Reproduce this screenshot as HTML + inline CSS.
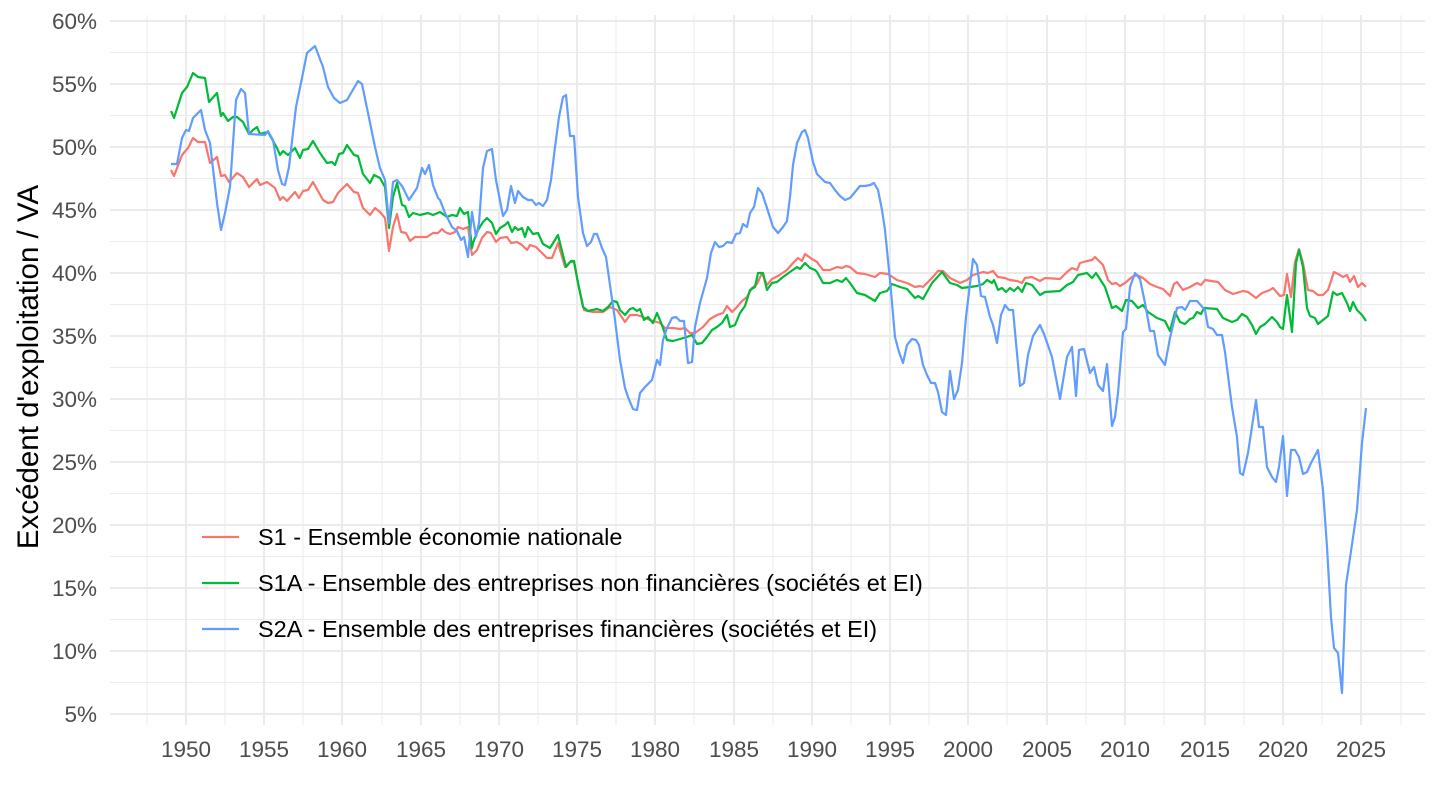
<!DOCTYPE html>
<html><head><meta charset="utf-8"><style>
html,body{margin:0;padding:0;background:#fff}
svg{display:block;font-family:"Liberation Sans",Arial,sans-serif}
</style></head><body>
<svg width="1440" height="810" viewBox="0 0 1440 810" xmlns="http://www.w3.org/2000/svg">
<rect width="1440" height="810" fill="#fff"/>
<g stroke="#ebebeb" stroke-width="1">
<line x1="110" x2="1425" y1="52.5" y2="52.5"/><line x1="110" x2="1425" y1="115.5" y2="115.5"/><line x1="110" x2="1425" y1="178.5" y2="178.5"/><line x1="110" x2="1425" y1="241.5" y2="241.5"/><line x1="110" x2="1425" y1="304.5" y2="304.5"/><line x1="110" x2="1425" y1="367.5" y2="367.5"/><line x1="110" x2="1425" y1="430.5" y2="430.5"/><line x1="110" x2="1425" y1="493.5" y2="493.5"/><line x1="110" x2="1425" y1="556.5" y2="556.5"/><line x1="110" x2="1425" y1="619.5" y2="619.5"/><line x1="110" x2="1425" y1="682.5" y2="682.5"/>
<line y1="15" y2="725" x1="147" x2="147"/><line y1="15" y2="725" x1="225" x2="225"/><line y1="15" y2="725" x1="303" x2="303"/><line y1="15" y2="725" x1="382" x2="382"/><line y1="15" y2="725" x1="460" x2="460"/><line y1="15" y2="725" x1="538" x2="538"/><line y1="15" y2="725" x1="616" x2="616"/><line y1="15" y2="725" x1="694" x2="694"/><line y1="15" y2="725" x1="773" x2="773"/><line y1="15" y2="725" x1="851" x2="851"/><line y1="15" y2="725" x1="929" x2="929"/><line y1="15" y2="725" x1="1007" x2="1007"/><line y1="15" y2="725" x1="1086" x2="1086"/><line y1="15" y2="725" x1="1164" x2="1164"/><line y1="15" y2="725" x1="1244" x2="1244"/><line y1="15" y2="725" x1="1322" x2="1322"/><line y1="15" y2="725" x1="1401" x2="1401"/>
</g>
<g stroke="#ebebeb" stroke-width="2">
<line x1="110" x2="1425" y1="21" y2="21"/><line x1="110" x2="1425" y1="84" y2="84"/><line x1="110" x2="1425" y1="147" y2="147"/><line x1="110" x2="1425" y1="210" y2="210"/><line x1="110" x2="1425" y1="273" y2="273"/><line x1="110" x2="1425" y1="336" y2="336"/><line x1="110" x2="1425" y1="399" y2="399"/><line x1="110" x2="1425" y1="462" y2="462"/><line x1="110" x2="1425" y1="525" y2="525"/><line x1="110" x2="1425" y1="588" y2="588"/><line x1="110" x2="1425" y1="651" y2="651"/><line x1="110" x2="1425" y1="714" y2="714"/>
<line y1="15" y2="725" x1="186" x2="186"/><line y1="15" y2="725" x1="264" x2="264"/><line y1="15" y2="725" x1="342" x2="342"/><line y1="15" y2="725" x1="421" x2="421"/><line y1="15" y2="725" x1="499" x2="499"/><line y1="15" y2="725" x1="577" x2="577"/><line y1="15" y2="725" x1="655" x2="655"/><line y1="15" y2="725" x1="734" x2="734"/><line y1="15" y2="725" x1="812" x2="812"/><line y1="15" y2="725" x1="890" x2="890"/><line y1="15" y2="725" x1="968" x2="968"/><line y1="15" y2="725" x1="1047" x2="1047"/><line y1="15" y2="725" x1="1125" x2="1125"/><line y1="15" y2="725" x1="1205" x2="1205"/><line y1="15" y2="725" x1="1283" x2="1283"/><line y1="15" y2="725" x1="1361" x2="1361"/>
</g>
<g font-size="22.5" fill="#4d4d4d" text-anchor="end">
<text x="97" y="29">60%</text><text x="97" y="92">55%</text><text x="97" y="155">50%</text><text x="97" y="218">45%</text><text x="97" y="281">40%</text><text x="97" y="344">35%</text><text x="97" y="407">30%</text><text x="97" y="470">25%</text><text x="97" y="533">20%</text><text x="97" y="596">15%</text><text x="97" y="659">10%</text><text x="97" y="722">5%</text>
</g>
<g font-size="22.5" fill="#4d4d4d" text-anchor="middle">
<text x="186" y="757">1950</text><text x="264" y="757">1955</text><text x="342" y="757">1960</text><text x="421" y="757">1965</text><text x="499" y="757">1970</text><text x="577" y="757">1975</text><text x="655" y="757">1980</text><text x="734" y="757">1985</text><text x="812" y="757">1990</text><text x="890" y="757">1995</text><text x="968" y="757">2000</text><text x="1047" y="757">2005</text><text x="1125" y="757">2010</text><text x="1205" y="757">2015</text><text x="1283" y="757">2020</text><text x="1361" y="757">2025</text>
</g>
<text transform="translate(38,367) rotate(-90)" font-size="29.5" text-anchor="middle" fill="#000">Excédent d'exploitation / VA</text>
<g fill="none" stroke-width="2.2" stroke-linejoin="round">
<polyline stroke="#F8766D" points="171,170 174,176 182,155 188,148 193,138 198,142 205,142 210,163 217,157 221,176 225,175 229,182 237,173 243,177 249,187 257,179 260,185 267,182 275,188 280,200 283,197 287,201 295,192 299,198 303,191 308,190 313,182 323,200 328,203 333,202 338,193 347,184 354,192 358,193 363,208 370,215 375,208 380,212 385,218 389,251 393,227 397,214 401,232 406,233 410,241 415,237 427,237 433,233 438,233 442,229 445,232 450,234 455,232 458,227 463,229 468,227 472,255 477,250 482,238 487,232 491,233 496,242 500,238 507,237 511,243 517,242 522,245 527,250 530,245 536,247 542,253 547,258 552,258 558,243 565,267 570,262 574,262 578,283 584,310 593,312 603,312 610,307 617,310 625,322 630,315 637,315 643,317 650,320 660,323 665,328 673,328 680,329 685,328 690,333 695,333 703,327 710,319 717,315 723,313 727,306 732,312 737,307 742,301 747,297 752,288 757,284 762,273 767,285 772,279 778,276 787,270 793,263 798,258 802,261 805,254 812,259 817,262 823,270 830,270 837,267 842,268 846,266 850,267 857,273 865,274 875,277 880,273 888,274 897,280 907,283 915,287 920,286 923,287 932,278 938,271 943,271 950,278 960,283 967,280 973,275 983,272 988,273 993,271 998,277 1005,278 1010,280 1017,281 1022,283 1025,278 1032,277 1040,281 1045,278 1060,279 1067,272 1072,268 1077,270 1080,263 1087,261 1092,260 1095,257 1103,265 1108,280 1112,284 1116,283 1120,286 1125,283 1132,277 1137,275 1143,278 1150,284 1157,287 1163,289 1170,296 1174,284 1177,282 1183,290 1190,287 1197,283 1201,285 1205,280 1218,282 1225,290 1233,294 1243,291 1248,292 1256,298 1262,293 1270,290 1273,288 1280,296 1284,295 1287,274 1291,297 1295,262 1299,249 1303,263 1308,290 1313,291 1318,295 1323,295 1328,290 1334,272 1340,275 1343,277 1347,275 1350,282 1354,276 1358,287 1362,283 1366,287"/>
<polyline stroke="#00BA38" points="171,111 174,118 182,93 187,87 193,73 198,77 205,78 209,102 217,93 221,116 223,113 228,121 233,117 237,117 243,122 249,134 253,130 257,127 260,134 268,132 277,148 280,155 283,151 288,155 295,148 300,158 303,150 308,149 313,141 320,153 327,163 332,162 335,165 339,154 343,153 347,145 354,155 358,156 363,174 370,183 374,175 380,178 385,187 389,228 393,197 397,183 402,205 405,206 409,217 413,213 420,215 428,213 433,215 440,212 447,217 452,215 457,216 460,208 464,214 468,212 472,248 473,243 478,230 483,222 487,218 492,223 496,234 500,228 505,225 508,222 512,232 515,227 518,230 522,228 525,237 528,227 533,234 538,233 543,244 550,248 558,235 566,267 571,261 574,261 578,283 583,307 588,311 597,309 603,311 608,307 613,301 617,302 620,310 625,315 630,309 633,308 637,311 640,309 644,320 648,317 653,323 657,313 662,325 667,340 673,341 680,339 687,337 692,335 697,344 702,343 707,337 712,330 717,327 722,323 727,315 730,327 735,325 740,313 745,306 750,290 755,287 758,273 763,273 767,290 772,283 777,282 783,277 790,272 797,267 800,269 805,263 810,268 815,270 817,272 823,283 830,283 837,280 842,282 846,278 850,283 857,293 865,295 875,301 880,293 887,291 892,284 900,287 907,289 915,298 918,296 923,299 932,283 942,272 950,283 957,285 962,288 970,287 977,286 983,284 987,280 992,283 994,280 998,290 1002,288 1006,292 1010,288 1014,291 1018,287 1022,292 1026,283 1032,285 1040,295 1045,292 1060,291 1067,285 1073,282 1078,275 1087,273 1092,278 1096,273 1105,287 1112,308 1116,306 1122,311 1126,300 1132,301 1138,308 1143,305 1148,312 1157,318 1165,321 1170,331 1175,312 1180,322 1185,324 1190,319 1193,318 1197,312 1201,314 1204,308 1217,309 1223,318 1232,322 1237,320 1242,314 1247,317 1252,325 1256,334 1260,327 1265,324 1272,317 1277,322 1280,327 1283,329 1287,295 1292,332 1296,263 1299,250 1303,267 1307,308 1310,316 1315,318 1318,324 1323,320 1328,316 1333,292 1337,295 1342,293 1347,303 1350,311 1353,302 1357,310 1362,315 1366,321"/>
<polyline stroke="#619CFF" points="171,164 177,164 182,138 186,130 189,131 193,118 201,110 205,130 210,143 217,203 221,230 225,213 230,187 236,100 241,89 245,93 249,134 265,135 268,131 273,140 278,170 282,184 285,185 289,167 296,107 303,73 307,53 315,46 323,67 328,87 334,98 340,103 347,100 354,88 358,81 362,84 368,113 375,147 380,168 385,180 389,223 393,182 397,180 402,186 409,200 417,188 422,168 425,174 429,165 433,185 438,198 440,200 445,213 452,227 457,231 461,240 464,237 468,257 472,212 476,237 479,223 483,168 487,151 492,149 496,180 503,216 507,210 511,186 515,203 518,191 523,197 528,200 532,200 536,205 539,203 543,206 547,200 551,180 555,147 559,117 563,97 566,95 570,136 574,136 578,197 583,233 587,246 591,242 594,234 597,234 602,248 606,257 610,285 615,320 620,360 625,388 628,397 633,409 637,410 640,393 645,387 652,380 657,360 660,365 663,340 667,328 672,318 676,317 680,321 684,321 688,363 692,362 695,327 700,303 707,278 711,253 715,242 719,247 723,246 727,242 732,243 736,234 740,233 743,224 747,227 750,213 754,207 758,188 762,193 767,208 773,227 778,233 783,227 787,221 790,197 793,165 797,143 802,132 805,130 808,138 813,162 817,174 820,177 825,182 830,183 835,190 840,196 845,200 850,198 855,192 860,186 865,186 870,185 874,183 878,190 882,210 885,230 890,280 895,337 899,352 903,363 907,345 912,339 916,340 919,345 923,365 927,375 931,383 935,383 938,392 942,412 946,415 950,371 954,399 958,390 962,363 966,317 973,259 977,265 981,296 985,297 990,317 993,325 997,343 1001,315 1005,305 1009,310 1013,310 1020,386 1024,383 1028,355 1033,336 1040,325 1044,334 1052,357 1060,399 1067,357 1072,347 1076,396 1079,350 1084,349 1090,373 1094,367 1098,385 1103,391 1107,364 1112,426 1115,417 1118,393 1123,332 1126,329 1130,287 1135,273 1140,279 1145,303 1150,331 1154,331 1158,355 1165,365 1170,338 1177,308 1182,307 1185,310 1190,301 1197,301 1205,310 1208,327 1213,329 1217,335 1222,335 1225,352 1232,407 1237,437 1240,473 1243,475 1248,453 1256,400 1259,427 1263,427 1267,467 1272,477 1276,482 1279,467 1283,436 1287,496 1291,450 1295,450 1299,457 1303,474 1307,472 1311,463 1318,450 1323,490 1327,547 1331,617 1334,648 1338,653 1342,693 1346,585 1350,558 1357,510 1362,443 1366,408"/>
</g>
<g stroke-width="2.2">
<line x1="202" x2="239" y1="537" y2="537" stroke="#F8766D"/>
<line x1="202" x2="239" y1="583" y2="583" stroke="#00BA38"/>
<line x1="202" x2="239" y1="629" y2="629" stroke="#619CFF"/>
</g>
<g font-size="23.5" fill="#000">
<text x="258" y="545">S1 - Ensemble économie nationale</text>
<text x="258" y="591">S1A - Ensemble des entreprises non financières (sociétés et EI)</text>
<text x="258" y="637">S2A - Ensemble des entreprises financières (sociétés et EI)</text>
</g>
</svg>
</body></html>
